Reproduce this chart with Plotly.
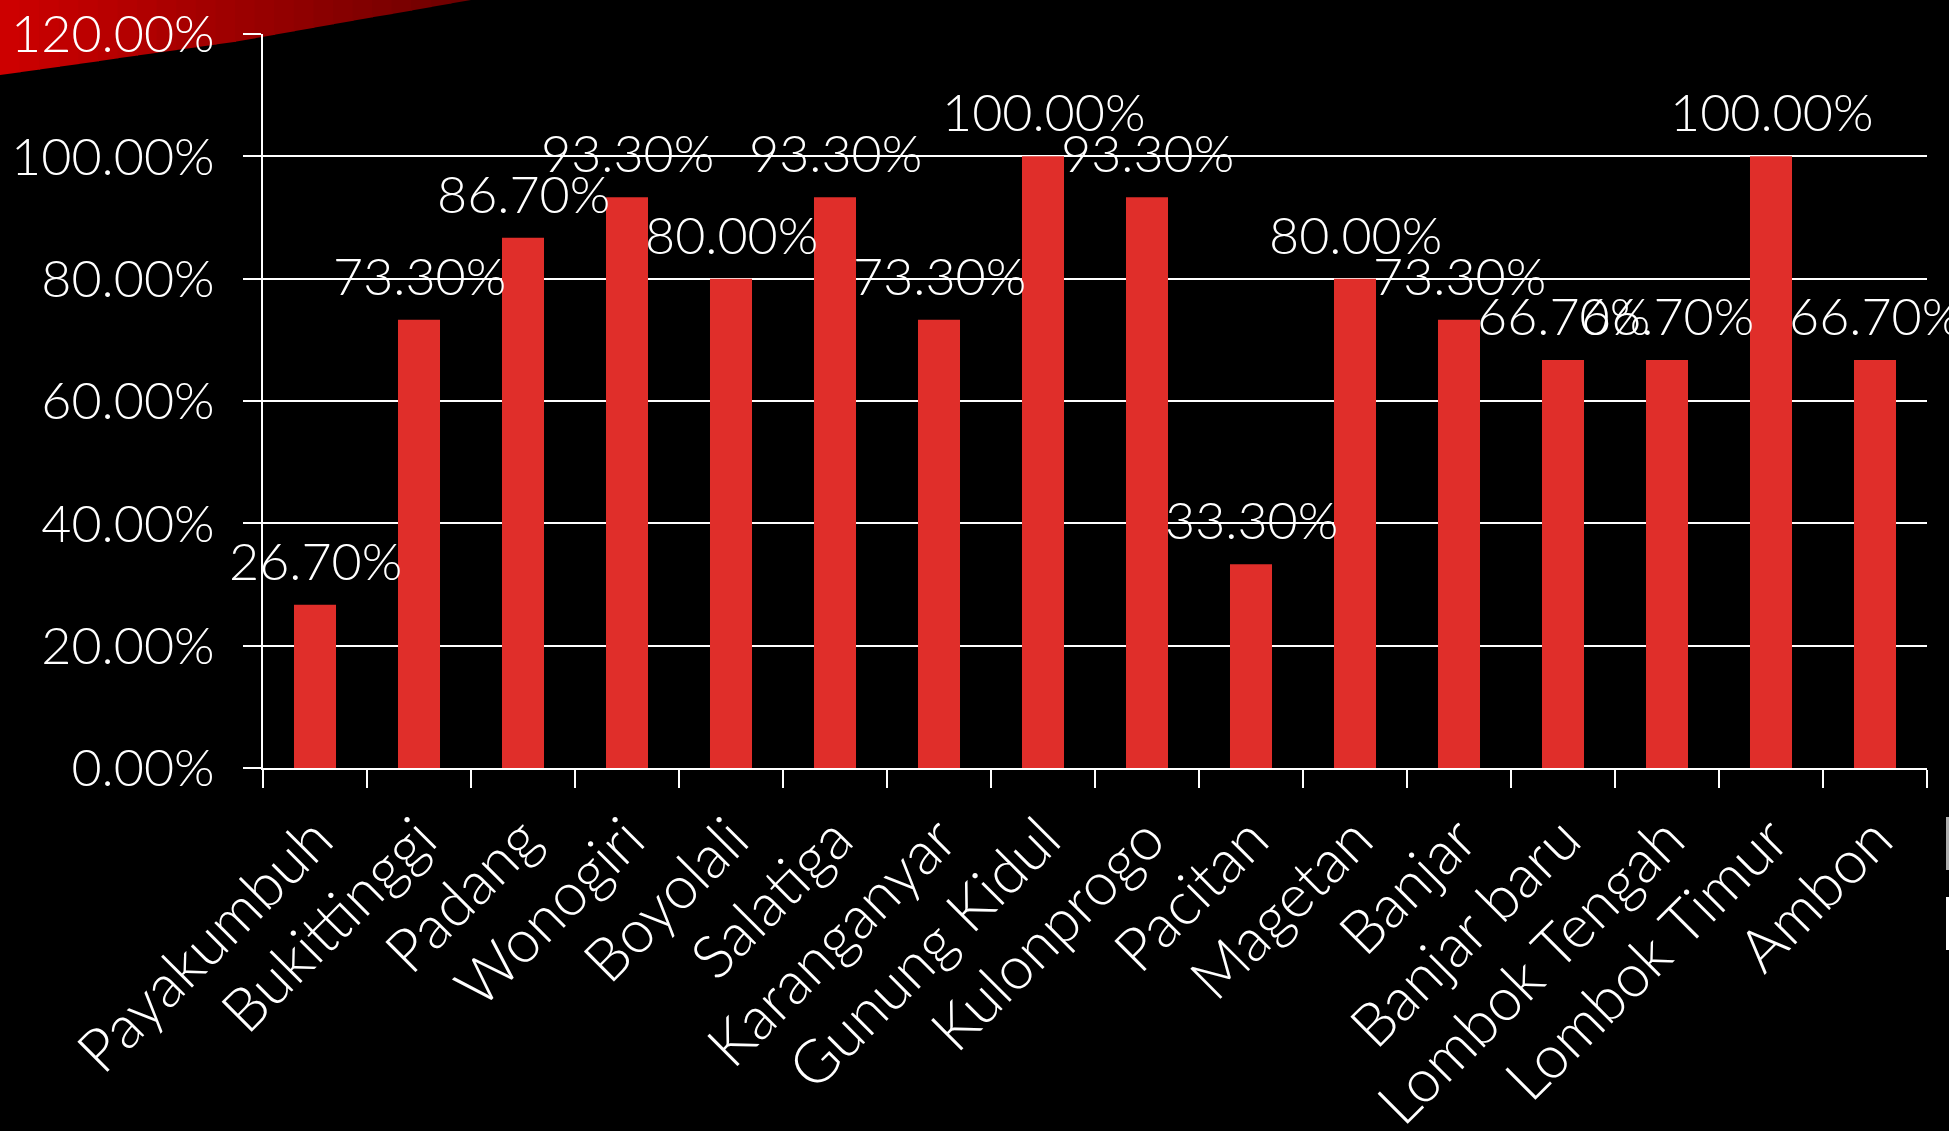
import plotly.graph_objects as go
import numpy as np

categories = ["Payakumbuh", "Bukittinggi", "Padang", "Wonogiri", "Boyolali", "Salatiga",
              "Karanganyar", "Gunung Kidul", "Kulonprogo", "Pacitan", "Magetan", "Banjar",
              "Banjar baru", "Lombok Tengah", "Lombok Timur", "Ambon"]
values = [0.267, 0.733, 0.867, 0.933, 0.800, 0.933, 0.733, 1.000, 0.933, 0.333,
          0.800, 0.733, 0.667, 0.667, 1.000, 0.667]
labels = [f"{v:.2%}" for v in values]

W, H = 1949, 1131
ML, MR, MT, MB = 263, 22, 34, 363
PW, PH = W - ML - MR, H - MT - MB

FAMILY = "Lato, 'Open Sans', sans-serif"
FONT = dict(family=FAMILY, color="white", size=52, weight=300)
XFONT = dict(family=FAMILY, color="white", size=60, weight=300)

fig = go.Figure()
fig.add_trace(go.Bar(
    x=categories, y=values,
    marker=dict(color="#E02E2A", line=dict(width=0)),
    hoverinfo="skip",
))

annotations = []
for c, v, t in zip(categories, values, labels):
    annotations.append(dict(x=c, y=v, text=t, showarrow=False, xref="x", yref="y",
                            yanchor="middle", xanchor="center", yshift=45, font=FONT))


def pp(px, py):
    return (px - ML) / PW, (H - MB - py) / PH


shapes = []
# decorative red swoosh at top-left (gradient approximated by strips)
N = 24
xs = np.linspace(0, 470, N + 1)
def bottom(x):
    return np.interp(x, [0, 233, 470], [75, 42, 0])
for i in range(N):
    x0, x1 = xs[i], xs[i + 1]
    f = i / (N - 1)
    r = int(205 - 95 * f)
    p = [pp(x0, 0), pp(x1 + 1, 0), pp(x1 + 1, bottom(x1)), pp(x0, bottom(x0))]
    path = "M " + " L ".join(f"{a},{b}" for a, b in p) + " Z"
    shapes.append(dict(type="path", path=path, xref="paper", yref="paper",
                       fillcolor=f"rgb({r},0,0)", line=dict(width=0), layer="below"))

# partial legend slivers at the right edge
for (y0, y1, col) in [(817, 870, "#b0b0b0"), (897, 950, "white")]:
    a0, b0 = pp(1946, y0)
    a1, b1 = pp(1949, y1)
    shapes.append(dict(type="rect", xref="paper", yref="paper", x0=a0, x1=a1, y0=b0, y1=b1,
                       fillcolor=col, line=dict(width=0)))

fig.update_layout(
    width=W, height=H,
    margin=dict(l=ML, r=MR, t=MT, b=MB, pad=0, autoexpand=False),
    paper_bgcolor="black", plot_bgcolor="black",
    showlegend=False, bargap=0.596,
    font=FONT,
    annotations=annotations,
    shapes=shapes,
    xaxis=dict(
        type="category", tickangle=-45, tickfont=XFONT, automargin=False,
        range=[-0.5, len(categories) - 0.5],
        showline=True, linecolor="white", linewidth=2,
        ticks="outside", ticklen=18, tickcolor="white", tickwidth=2,
        tickson="boundaries", showgrid=False, zeroline=False,
        ticklabelstandoff=10,
    ),
    yaxis=dict(
        range=[0, 1.2], dtick=0.2, tickformat=".2%", tickfont=FONT, automargin=False,
        showline=True, linecolor="white", linewidth=2,
        ticks="outside", ticklen=18, tickcolor="white", tickwidth=2,
        ticklabelstandoff=18,
        showgrid=True, gridcolor="white", gridwidth=2, zeroline=False,
    ),
)

fig.write_html(
    "out.html",
    config={"displayModeBar": False},
    post_script="document.body.style.margin='0';document.body.style.background='black';"
                "document.documentElement.style.background='black';document.body.style.overflow='hidden';",
)
